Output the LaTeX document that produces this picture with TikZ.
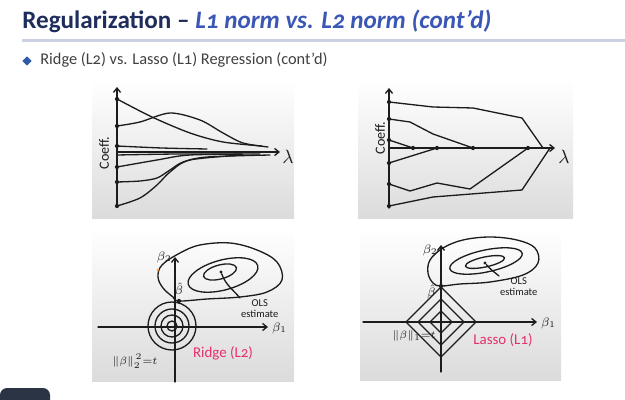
\documentclass[tikz,border=0pt]{standalone}
\usepackage{fontspec}
\setmainfont{Carlito}[Numbers=OldStyle]
\usetikzlibrary{arrows.meta,shapes.geometric}

\definecolor{titlenavy}{HTML}{1F2D5C}
\definecolor{titleblue}{HTML}{3B57B5}
\definecolor{rulegray}{HTML}{CBD0E3}
\definecolor{bulletblue}{HTML}{2E5AA8}
\definecolor{subgray}{HTML}{404040}
\definecolor{penink}{HTML}{1C1C1C}
\definecolor{markerpink}{HTML}{E5306E}
\definecolor{buttonnavy}{HTML}{2B3445}

\tikzset{
  panel/.style={top color=white, middle color=white, bottom color=black!14},
  pen/.style={draw=penink, line width=0.75pt, line join=round, line cap=round},
  axisline/.style={pen, -{Straight Barb[length=2.5pt,width=4pt]}},
  knot/.style={circle, fill=penink, inner sep=0pt, minimum size=2.4pt},
  hand/.style={text=penink, inner sep=0.5pt, font=\fontsize{6}{6.5}\selectfont},
  pinklabel/.style={text=markerpink, inner sep=0.5pt, font=\fontsize{8.5}{9}\selectfont},
}

\begin{document}
\begin{tikzpicture}[x=0.02cm, y=0.02cm]
    \useasboundingbox (0,0) rectangle (625,399);
    % header
    \node[anchor=base west, inner sep=0pt, text=titlenavy, font=\fontsize{14.3}{16}\selectfont\bfseries] (title) at (22,370)
        {Regularization -- \textcolor{titleblue}{\itshape L1 norm vs. L2 norm (cont'd)}};
    \draw[rulegray, line width=1.2pt] (22,358.5) -- (625,358.5);
    \node[diamond, fill=bulletblue, inner sep=0pt, minimum size=5.5pt] (bullet) at (27,338) {};
    \node[anchor=base west, inner sep=0pt, text=subgray, font=\fontsize{9.3}{10}\selectfont] (subtitle) at (40,334)
        {Ridge (L2) vs. Lasso (L1) Regression (cont'd)};
    % panels
    \fill[panel] (92,180) rectangle (294,319);
    \fill[panel] (358,180) rectangle (573,319);
    \fill[panel] (92,18) rectangle (294,171);
    \fill[panel] (360,19) rectangle (561,171);
    % ridge paths
    \begin{scope}[shift={(117,247)}]
        \draw[axisline] (0,-55) -- (0,65);
        \draw[axisline] (0,0) -- (163,0);
        \node[hand, font=\fontsize{11}{11}\selectfont] (lamA) at (171,-5) {$\lambda$};
        \node[hand, rotate=90, font=\fontsize{8}{8}\selectfont] (coeffA) at (-13,-1) {Coeff.};
        \draw[pen] plot[smooth] coordinates {(0,53) (35,35) (73,19) (106,10) (145,6)};
        \draw[pen] plot[smooth] coordinates {(0,26) (23,30) (53,39) (83,32) (106,19) (126,9) (151,5)};
        \draw[pen] plot[smooth] coordinates {(0,6) (45,4) (90,3)};
        \draw[pen] plot[smooth] coordinates {(0,-3) (60,-2) (125,-2)};
        \draw[pen] plot[smooth] coordinates {(0,-15) (40,-8) (73,-3) (143,-2)};
        \draw[pen] plot[smooth] coordinates {(0,-30) (23,-29) (40,-26) (53,-18) (66,-10) (90,-5) (153,-3)};
        \draw[pen] plot[smooth] coordinates {(0,-54) (23,-46) (40,-33) (53,-20) (73,-8) (126,-3)};
        \foreach \y in {53,26,6,-15,-30,-54}
            \node[knot] at (0,\y) {};
    \end{scope}
    % lasso paths
    \begin{scope}[shift={(389,251)}]
        \draw[axisline] (0,-60) -- (0,60);
        \draw[axisline] (0,0) -- (166,0);
        \node[hand, font=\fontsize{11}{11}\selectfont] (lamB) at (175,-9) {$\lambda$};
        \node[hand, rotate=90, font=\fontsize{8}{8}\selectfont] (coeffB) at (-9,10) {Coeff.};
        \draw[pen] (0,46) -- (44,41) -- (84,40) -- (133,30) -- (154,0);
        \draw[pen] (0,29) -- (21,26) -- (44,14) -- (84,0);
        \draw[pen] (0,8) -- (24,0);
        \draw[pen] (0,-15) -- (48,0);
        \draw[pen] (0,-36) -- (21,-43) -- (48,-35) -- (81,-41) -- (139,0);
        \draw[pen] (0,-58) -- (44,-49) -- (133,-42) -- (161,0);
        \foreach \y in {46,29,8,-15,-36,-58}
            \node[knot] at (0,\y) {};
        \foreach \x in {24,48,84,139}
            \node[knot] at (\x,0) {};
    \end{scope}
    % ridge constraint
    \begin{scope}[shift={(175,72)}]
        \draw[axisline] (0,-55) -- (0,70);
        \draw[axisline] (-77,0) -- (93,0);
        \node[hand, anchor=west, font=\fontsize{7}{7}\selectfont] (b1A) at (96,-1) {$\beta_1$};
        \node[hand, anchor=east, font=\fontsize{7}{7}\selectfont] (b2A) at (-2,70) {$\beta_2$};
        \foreach \r in {24,17,11,5}
            \draw[pen] (-3,1) circle (\r);
        \draw[pen] plot[smooth cycle, tension=0.6] coordinates {(4,26) (32,28) (65,30) (92,35) (107,47) (102,65) (82,77) (55,84) (25,82) (5,74) (-13,62) (-17,50) (-12,39) (-2,30)};
        \draw[pen, rotate around={15:(48,52)}] (48,52) ellipse (36 and 15);
        \draw[pen, rotate around={15:(45,55)}] (45,55) ellipse (17 and 7);
        \node[knot] (betahatA) at (4,26) {};
        \node[hand, anchor=south, font=\fontsize{7}{7}\selectfont] (bhA) at (4,29) {$\hat{\beta}$};
        \node[knot, minimum size=1.8pt] (olsA) at (46,55) {};
        \node[hand, align=center, anchor=north west] (olsLA) at (65,29) {OLS\\estimate};
        \draw[pen] (olsA) to[out=-70, in=130] (olsLA.north west);
        \node[hand, font=\fontsize{6.5}{6.5}\selectfont] (normA) at (-40,-34) {$\|\beta\|_2^{\kern1pt 2}{=}t$};
        \node[pinklabel] (ridgeL) at (48,-26) {Ridge (L2)};
        \fill[orange!80] (-17,57) circle (1.3);
    \end{scope}
    % lasso constraint
    \begin{scope}[shift={(441,77)}]
        \draw[axisline] (0,-50) -- (0,77);
        \draw[axisline] (-78,0) -- (96,0);
        \node[hand, anchor=west, font=\fontsize{7}{7}\selectfont] (b1B) at (99,-1) {$\beta_1$};
        \node[hand, anchor=east, font=\fontsize{7}{7}\selectfont] (b2B) at (-2,72) {$\beta_2$};
        \foreach \r in {35,23,11}
            \draw[pen] (\r,0) -- (0,\r) -- (-\r,0) -- (0,-\r) -- cycle;
        \draw[pen] plot[smooth cycle, tension=0.6] coordinates {(0,36) (19,38) (49,40) (82,47) (97,59) (94,74) (76,82) (49,85) (22,82) (2,74) (-11,62) (-13,49) (-8,39)};
        \draw[pen, rotate around={12:(45,61)}] (45,61) ellipse (37 and 11);
        \draw[pen, rotate around={12:(44,60)}] (44,60) ellipse (20 and 5);
        \node[knot] (betahatB) at (0,36) {};
        \node[hand, anchor=east, font=\fontsize{7}{7}\selectfont] (bhB) at (-4,30) {$\hat{\beta}$};
        \node[knot, minimum size=1.8pt] (olsB) at (44,59) {};
        \node[hand, align=center, anchor=north west] (olsLB) at (58,46) {OLS\\estimate};
        \draw[pen] (olsB) to[out=-50, in=140] (olsLB.north west);
        \node[hand, anchor=east, font=\fontsize{6.5}{6.5}\selectfont] (normB) at (-4,-14) {$\|\beta\|_1{=}t$};
        \node[pinklabel] (lassoL) at (62,-18) {Lasso (L1)};
    \end{scope}
    % player button
    \fill[buttonnavy, rounded corners=4pt] (0,-10) rectangle (50,11);
\end{tikzpicture}
\end{document}
